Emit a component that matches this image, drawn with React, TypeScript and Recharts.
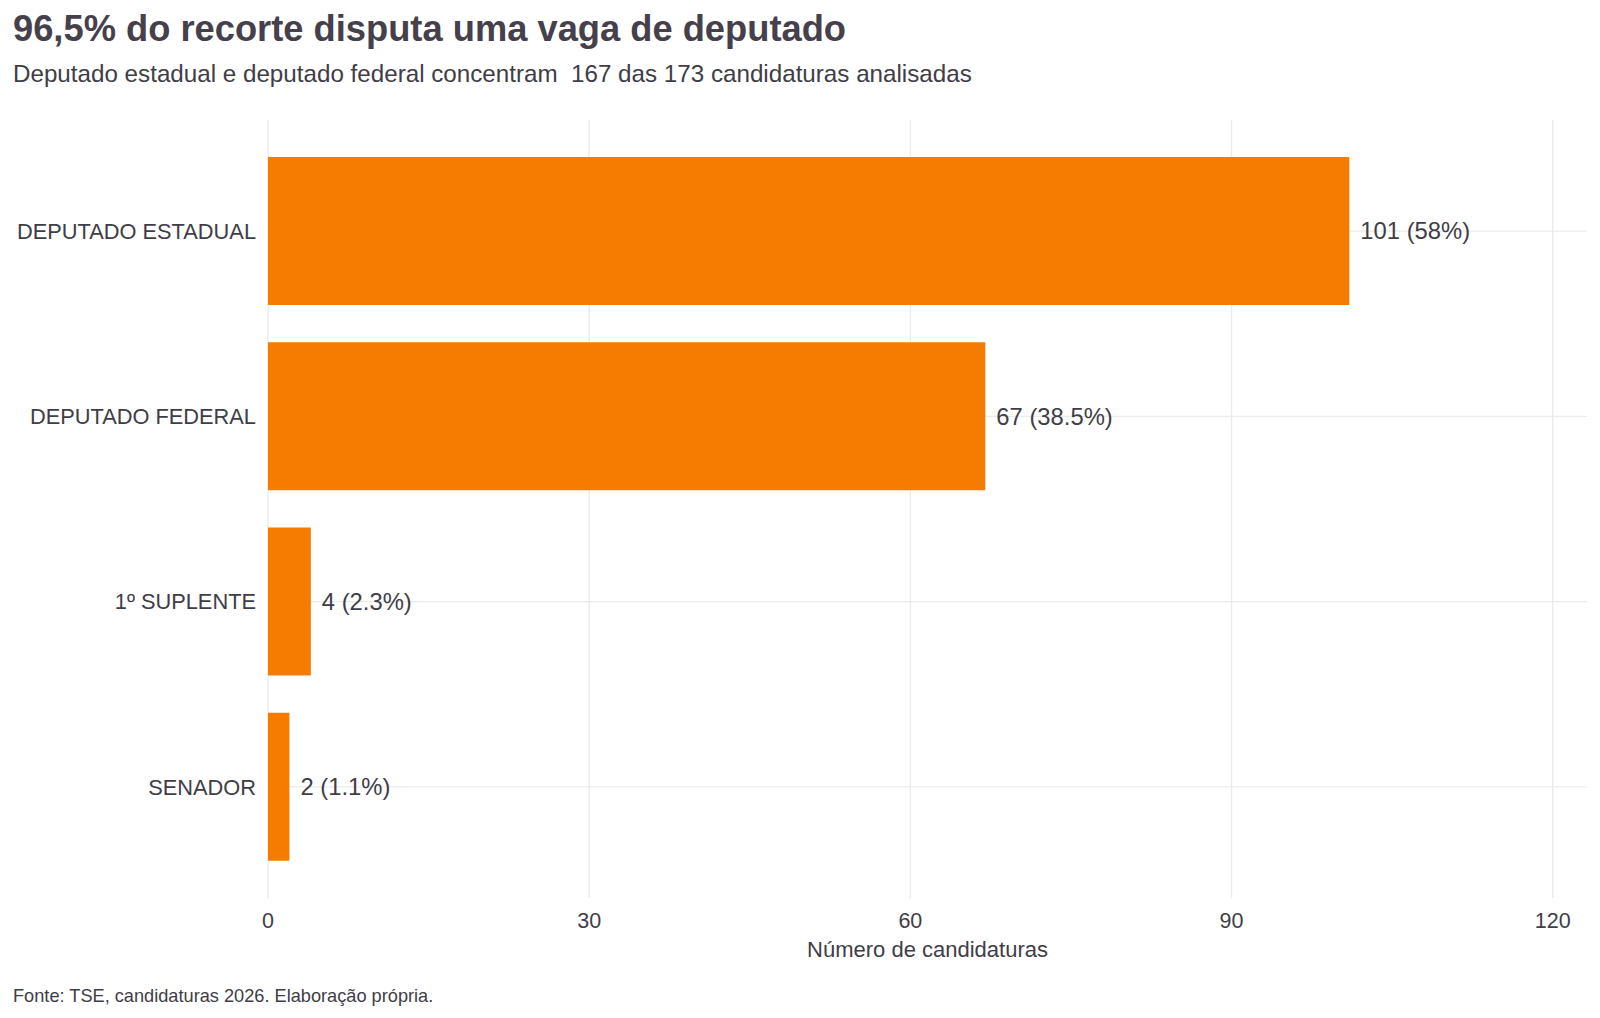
import { BarChart, Bar, XAxis, YAxis, CartesianGrid, LabelList } from 'recharts';

const cargos = ['DEPUTADO ESTADUAL', 'DEPUTADO FEDERAL', '1º SUPLENTE', 'SENADOR'];
const candidaturas = [101, 67, 4, 2];
const percentuais = ['58%', '38.5%', '2.3%', '1.1%'];
const xTicks = [0, 30, 60, 90, 120];

const data = cargos.map((nome, i) => ({
  nome,
  total: candidaturas[i],
  rotulo: `${candidaturas[i]} (${percentuais[i]})`,
}));

const FONT = '"Liberation Sans", Arial, Helvetica, sans-serif';
const TEXT = '#403d47';

export default function App() {
  return (
    <div style={{ position: 'absolute', left: 0, top: 0, width: 1600, height: 1018, background: '#fff', fontFamily: FONT }}>
      <svg width={1600} height={110} style={{ position: 'absolute', left: 0, top: 0 }}>
        <text x={13} y={41} fontSize={36.3} fontWeight="bold" fill="#45404c" fontFamily={FONT}>
          96,5% do recorte disputa uma vaga de deputado
        </text>
        <text x={13} y={82} fontSize={24.2} fill={TEXT} fontFamily={FONT} style={{ whiteSpace: 'pre' }}>
          Deputado estadual e deputado federal concentram  167 das 173 candidaturas analisadas
        </text>
      </svg>
      <BarChart
        width={1600}
        height={1018}
        data={data}
        layout="vertical"
        margin={{ top: 120, right: 13, bottom: 58, left: 0 }}
        barCategoryGap="10%"
      >
        <CartesianGrid stroke="#ebebeb" strokeWidth={1.4} syncWithTicks />
        <XAxis
          type="number"
          domain={[0, 123.2]}
          ticks={xTicks}
          axisLine={false}
          tickLine={false}
          tickSize={0}
          tickMargin={15}
          height={62}
          tick={{ fontSize: 21.5, fill: TEXT, fontFamily: FONT }}
          label={{ value: 'Número de candidaturas', position: 'insideBottom', offset: 3, fontSize: 22, fill: TEXT, fontFamily: FONT }}
        />
        <YAxis
          type="category"
          dataKey="nome"
          width={268}
          axisLine={false}
          tickLine={false}
          tickSize={0}
          tickMargin={12}
          padding={{ top: 18.5, bottom: 18.5 }}
          tick={{ fontSize: 21.8, fill: TEXT, fontFamily: FONT }}
        />
        <Bar dataKey="total" fill="#f57c00" isAnimationActive={false}>
          <LabelList dataKey="rotulo" position="right" offset={11} fontSize={23.8} fill={TEXT} fontFamily={FONT} />
        </Bar>
      </BarChart>
      <svg width={1600} height={30} style={{ position: 'absolute', left: 0, top: 985 }}>
        <text x={13} y={17} fontSize={18.2} fill={TEXT} fontFamily={FONT}>
          Fonte: TSE, candidaturas 2026. Elaboração própria.
        </text>
      </svg>
    </div>
  );
}
